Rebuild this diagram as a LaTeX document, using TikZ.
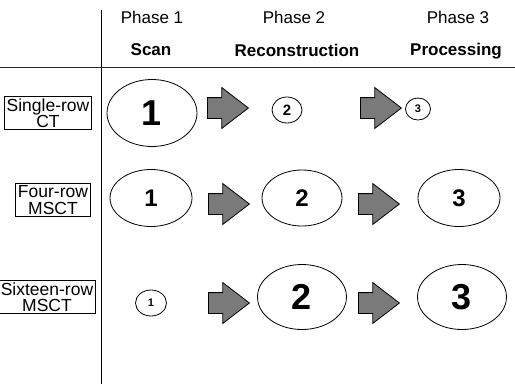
\documentclass[tikz,border=0pt]{standalone}
\usepackage{fontspec}
\setmainfont{Liberation Sans}
\usetikzlibrary{shapes.geometric,shapes.arrows}

\tikzset{
  phase/.style={font=\fontsize{17}{19}\selectfont},
  stage/.style={font=\fontsize{17}{19}\selectfont\bfseries},
  scanner/.style={draw, line width=1pt, align=center, inner xsep=2pt,
    inner ysep=2pt, font=\fontsize{17.5}{16.5}\selectfont},
  oval/.style 2 args={ellipse, draw, line width=0.8pt, minimum width=#1,
    minimum height=#2, inner sep=0pt},
  num/.style={font=\fontsize{#1}{#1}\selectfont\bfseries},
  blockarrow/.style={single arrow, draw=black, line width=0.8pt, fill=black!52,
    minimum height=41pt, inner xsep=0pt, inner ysep=10pt, anchor=tail,
    single arrow head extend=10pt, single arrow tip angle=75},
}

\begin{document}
\begin{tikzpicture}[x=1pt, y=-1pt]
  \useasboundingbox (0,0) rectangle (515,384);

  % table rules
  \coordinate (vtop) at (101,10);
  \coordinate (vbot) at (101,384);
  \coordinate (hleft) at (0,67);
  \coordinate (hright) at (515,67);
  \draw [line width=0.8pt] (vtop) -- (vbot);
  \draw [line width=0.7pt, black!85] (hleft) -- (hright);

  % column heads
  \node [phase] (ph1) at (152, 17) {Phase 1};
  \node [phase] (ph2) at (294, 17) {Phase 2};
  \node [phase] (ph3) at (458, 17) {Phase 3};
  \node [stage] (scan) at (151, 50) {Scan};
  \node [stage] (recon) at (297, 50) {Reconstruction};
  \node [stage] (proc) at (456, 51) {Processing};

  % row labels
  \node [scanner] (single) at (48, 113) {Single-row\\CT};
  \node [scanner] (four) at (53, 200) {Four-row\\MSCT};
  \node [scanner] (sixteen) at (47, 297) {Sixteen-row\\MSCT};

  % single-row CT
  \node [oval={90pt}{67pt}, num=36] (s1) at (152, 113) {1};
  \node [oval={30pt}{26pt}, num=15] (s2) at (287, 110) {2};
  \node [oval={25pt}{22pt}, num=11] (s3) at (418, 109) {3};
  \node [blockarrow] (sa) at (207, 108) {};
  \node [blockarrow] (sb) at (360, 108) {};

  % four-row MSCT
  \node [oval={82pt}{57pt}, num=24] (f1) at (151, 198) {1};
  \node [oval={80pt}{56pt}, num=24] (f2) at (302, 198) {2};
  \node [oval={82pt}{57pt}, num=24] (f3) at (459, 198) {3};
  \node [blockarrow] (fa) at (208, 204) {};
  \node [blockarrow] (fb) at (358, 204) {};

  % sixteen-row MSCT
  \node [oval={31pt}{26pt}, num=11] (x1) at (151, 303) {1};
  \node [oval={89pt}{65pt}, num=36] (x2) at (302, 297) {2};
  \node [oval={89pt}{65pt}, num=36] (x3) at (462, 297) {3};
  \node [blockarrow] (xa) at (208, 303) {};
  \node [blockarrow] (xb) at (358, 303) {};
\end{tikzpicture}
\end{document}
